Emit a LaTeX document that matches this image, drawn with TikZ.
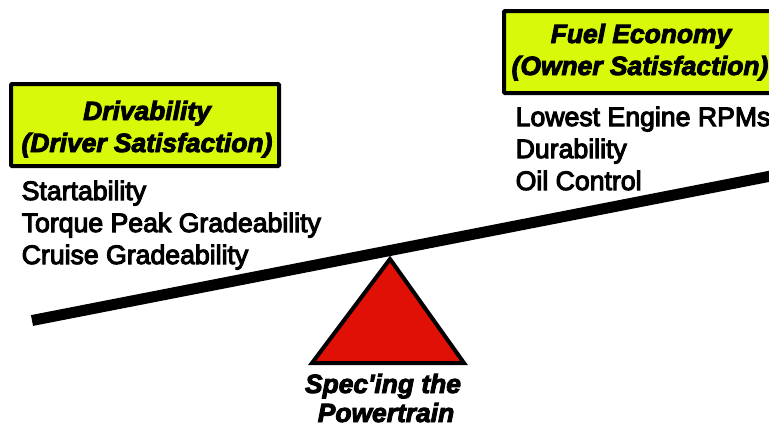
\documentclass[tikz,border=0pt]{standalone}
\usepackage{fontspec}
\setmainfont{Liberation Sans}
\newfontfamily\bodyfont[FakeBold=4]{Liberation Sans}
\newfontfamily\headfont[FakeBold=3.5]{Liberation Sans Bold Italic}
\definecolor{boxlime}{HTML}{D8F90A}
\definecolor{tired}{HTML}{E01006}
\tikzset{
  panel/.style={draw=black,line width=4bp,fill=boxlime,rounded corners=1bp},
  headtext/.style={inner sep=0pt,anchor=base,font=\headfont\fontsize{26.4bp}{31bp}\selectfont},
  bodytext/.style={inner sep=0pt,anchor=base west,font=\bodyfont\fontsize{26.65bp}{32bp}\selectfont},
}
\begin{document}
\begin{tikzpicture}[x=1bp,y=-1bp]
\useasboundingbox (0,0) rectangle (769,425);
\clip (0,0) rectangle (769,425);
\draw[line width=11bp] (32,320.5) -- (771,176);
\filldraw[fill=tired,draw=black,line width=4bp,line join=miter] (390,259) -- (464,363) -- (312,363) -- cycle;
\draw[panel] (11,84) rectangle (279,166);
\draw[panel] (504,11) rectangle (775,93);
\node[headtext] (h1) at (147,120) {Drivability};
\node[headtext] (h2) at (147,152) {(Driver Satisfaction)};
\node[headtext] (h3) at (641,43) {Fuel Economy};
\node[headtext] (h4) at (640,75) {(Owner Satisfaction)};
\node[bodytext] (a1) at (21.5,200) {Startability};
\node[bodytext] (a2) at (21.5,232) {Torque Peak Gradeability};
\node[bodytext] (a3) at (21.5,264) {Cruise Gradeability};
\node[bodytext] (b1) at (515.5,126) {Lowest Engine RPMs};
\node[bodytext] (b2) at (515.5,158) {Durability};
\node[bodytext] (b3) at (515.5,190) {Oil Control};
\node[headtext] (s1) at (383,393) {Spec'ing the};
\node[headtext] (s2) at (386,422) {Powertrain};
\end{tikzpicture}
\end{document}
